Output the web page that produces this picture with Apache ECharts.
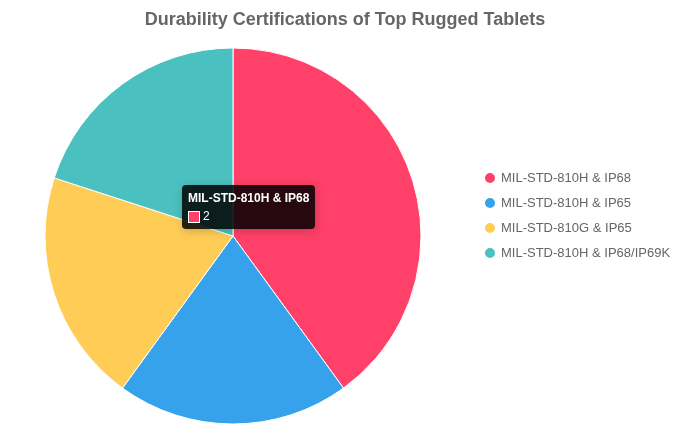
<!DOCTYPE html>
<html><head><meta charset="utf-8">
<script src="https://cdn.jsdelivr.net/npm/echarts@6/dist/echarts.min.js"></script>
<style>html,body{margin:0;padding:0;background:#fff}#c{width:690px;height:425px}</style>
</head><body><div id="c"></div>
<script>
const categories = ["MIL-STD-810H & IP68","MIL-STD-810H & IP65","MIL-STD-810G & IP65","MIL-STD-810H & IP68/IP69K"];
const values = [2,1,1,1];
const colors = ["#ff4069","#36a2eb","#ffcd56","#4bc0c0"];
const chart = echarts.init(document.getElementById('c'));
chart.setOption({
  animation:false,
  title:{text:"Durability Certifications of Top Rugged Tablets",left:'center',top:6,
    textStyle:{fontFamily:'Liberation Sans, Arial',fontSize:18,fontWeight:'bold',color:'#666'}},
  legend:{orient:'vertical',left:478,top:166,itemGap:11,icon:'circle',itemWidth:12,itemHeight:12,
    textStyle:{fontFamily:'Liberation Sans, Arial',fontSize:13,color:'#666'},data:categories},
  tooltip:{trigger:'item',alwaysShowContent:true,backgroundColor:'rgba(0,0,0,0.85)',borderWidth:0,padding:[6,6],
    position:[182,185],
    formatter:p=>'<div style="font:bold 12px Liberation Sans,Arial;color:#fff">'+p.name+'</div><div style="font:12px Liberation Sans,Arial;color:#fff;margin-top:4px"><span style="display:inline-block;width:10px;height:10px;background:'+p.color+';border:1px solid #fff;vertical-align:middle;margin-right:3px"></span>'+p.value+'</div>'},
  series:[{type:'pie',center:[233,236],radius:[0,188],startAngle:90,clockwise:true,
    label:{show:false},labelLine:{show:false},
    itemStyle:{borderColor:'#fff',borderWidth:1},
    emphasis:{scale:false},
    data:categories.map((n,i)=>({name:n,value:values[i],itemStyle:{color:colors[i]}}))}]
});
chart.dispatchAction({type:'showTip',seriesIndex:0,dataIndex:0});
</script></body></html>
